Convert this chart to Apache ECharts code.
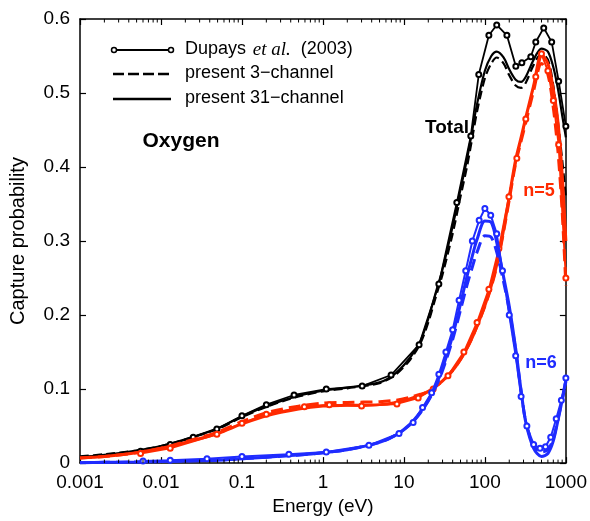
<!DOCTYPE html>
<html>
<head>
<meta charset="utf-8">
<script src="https://cdn.jsdelivr.net/npm/echarts@6/dist/echarts.min.js"></script>
<style>
html,body{margin:0;padding:0;background:#fff;}
#chart{width:590px;height:521px;}
</style>
</head>
<body>
<div id="chart"></div>
<script>
// ---------- data ----------
const energy = [0.001,0.002,0.005,0.01,0.02,0.05,0.1,0.2,0.5,1,2,5,8,12,16,20,25,30,40,50,60,70,80,100,120,140,170,200,240,280,320,400,500,600,700,800,900,1000];

const total31 = [0.008,0.011,0.017,0.023,0.032,0.047,0.063,0.077,0.091,0.098,0.102,0.109,0.122,0.143,0.165,0.195,0.232,0.262,0.320,0.370,0.410,0.450,0.485,0.530,0.550,0.556,0.548,0.532,0.518,0.515,0.522,0.545,0.560,0.556,0.535,0.505,0.470,0.440];
const total3  = [0.009,0.012,0.017,0.023,0.032,0.046,0.062,0.076,0.090,0.097,0.101,0.108,0.120,0.140,0.162,0.190,0.226,0.255,0.310,0.360,0.400,0.440,0.475,0.520,0.540,0.548,0.540,0.524,0.510,0.507,0.514,0.538,0.553,0.545,0.510,0.460,0.410,0.360];
const n5_31   = [0.007,0.009,0.014,0.020,0.028,0.040,0.053,0.064,0.073,0.077,0.078,0.079,0.082,0.087,0.092,0.097,0.104,0.111,0.125,0.140,0.155,0.170,0.185,0.213,0.240,0.268,0.315,0.360,0.410,0.440,0.467,0.510,0.552,0.540,0.505,0.460,0.390,0.300];
const n5_3    = [0.007,0.009,0.014,0.020,0.029,0.042,0.056,0.068,0.077,0.081,0.082,0.083,0.085,0.089,0.093,0.097,0.104,0.111,0.125,0.140,0.155,0.170,0.185,0.212,0.238,0.266,0.312,0.356,0.405,0.435,0.460,0.503,0.540,0.525,0.480,0.420,0.340,0.240];
const n6_31   = [0.0005,0.001,0.0015,0.002,0.003,0.004,0.006,0.008,0.011,0.014,0.018,0.028,0.038,0.053,0.069,0.085,0.106,0.128,0.172,0.215,0.252,0.280,0.302,0.327,0.325,0.298,0.252,0.212,0.155,0.098,0.055,0.020,0.009,0.013,0.030,0.058,0.085,0.112];
const n6_3    = [0.0005,0.001,0.0015,0.002,0.003,0.004,0.006,0.008,0.011,0.014,0.018,0.028,0.038,0.052,0.068,0.084,0.104,0.125,0.167,0.207,0.240,0.265,0.285,0.307,0.305,0.285,0.245,0.207,0.152,0.097,0.056,0.024,0.015,0.018,0.033,0.060,0.085,0.110];

const dupTotalE = [0.0056,0.013,0.025,0.049,0.1,0.2,0.44,1.1,3.05,6.95,15.4,27,45,67,84,112,140,187,241,286,369,425,533,668,815,1000];
const dupTotalY = [0.016,0.025,0.035,0.046,0.064,0.079,0.092,0.100,0.104,0.119,0.160,0.242,0.352,0.442,0.525,0.578,0.592,0.578,0.536,0.541,0.549,0.569,0.588,0.569,0.516,0.455];
const dupN5E = [0.0056,0.013,0.049,0.1,0.2,0.59,1.2,3,8.2,15,23,35,55,80,112,149,198,248,320,425,500,600,700,815,1000];
const dupN5Y = [0.013,0.020,0.039,0.054,0.066,0.076,0.079,0.077,0.080,0.088,0.100,0.118,0.150,0.190,0.235,0.290,0.360,0.412,0.465,0.522,0.553,0.530,0.490,0.430,0.250];
const dupN6E = [0.006,0.013,0.037,0.1,0.38,1.1,3.7,8.7,13,17,22,27,33,40,48,58,70,85,100,118,140,165,200,240,280,330,400,480,560,650,760,880,1000];
const dupN6Y = [0.003,0.004,0.006,0.009,0.012,0.015,0.024,0.040,0.055,0.075,0.095,0.120,0.150,0.180,0.220,0.260,0.300,0.328,0.344,0.335,0.310,0.260,0.200,0.145,0.090,0.050,0.025,0.020,0.022,0.035,0.060,0.085,0.115];

const minorE = [];
[0.001,0.01,0.1,1,10,100].forEach(d => { for (let k = 2; k <= 9; k++) minorE.push(+(d*k).toPrecision(3)); });

const xTickLabels = ['0.001','0.01','0.1','1','10','100','1000'];
const yTickLabels = ['0','0.1','0.2','0.3','0.4','0.5','0.6'];
const legendNames = ['Dupays', 'et al.', '(2003)', 'present 3\u2212channel', 'present 31\u2212channel'];
const annotations = ['Oxygen', 'Total', 'n=5', 'n=6'];

// ---------- chart ----------
const BLACK = '#000000', RED = '#ff2a00', BLUE = '#1f2cff';
const FONT = 'Liberation Sans, Arial, Helvetica, sans-serif';
const zip = (xs, ys) => xs.map((x, i) => [x, ys[i]]);

function smoothLine(data, color, width, dashed, z) {
  return { type: 'line', data: data, smooth: 0.3, showSymbol: false, symbol: 'none', z: z,
    color: color,
    lineStyle: { color: color, width: width, type: dashed ? 'dashed' : 'solid', dashOffset: 0 },
    emphasis: { disabled: true }, animation: false };
}
function dupLine(data, color, width, z) {
  return { type: 'line', data: data, smooth: false, showSymbol: true, showAllSymbol: true,
    symbol: 'emptyCircle', symbolSize: 5, z: z, color: color,
    itemStyle: { color: color, borderColor: color, borderWidth: 1.5 },
    lineStyle: { color: color, width: width, type: 'solid' },
    emphasis: { disabled: true }, animation: false };
}

const axisCommon = {
  axisLine: { show: true, onZero: false, lineStyle: { color: BLACK, width: 1.5 } },
  axisTick: { show: true, inside: true, length: 6, lineStyle: { color: BLACK, width: 1.2 } },
  splitLine: { show: false }
};

const chart = echarts.init(document.getElementById('chart'), null, { renderer: 'canvas' });
chart.setOption({
  animation: false,
  backgroundColor: '#fff',
  grid: { left: 80, right: 23, top: 19, bottom: 54, containLabel: false },
  xAxis: [
    Object.assign({ type: 'log', logBase: 10, min: 0.001, max: 1000, position: 'bottom',
      axisLabel: { color: BLACK, fontSize: 19, fontFamily: FONT, margin: 10,
        formatter: v => xTickLabels[Math.round(Math.log10(v)) + 3] },
      name: 'Energy (eV)', nameLocation: 'middle', nameGap: 32,
      nameTextStyle: { color: BLACK, fontSize: 19, fontFamily: FONT } }, axisCommon),
    Object.assign({ type: 'log', logBase: 10, min: 0.001, max: 1000, position: 'top',
      axisLabel: { show: false } }, axisCommon)
  ],
  yAxis: [
    Object.assign({ type: 'value', min: 0, max: 0.6, interval: 0.1, position: 'left',
      axisLabel: { color: BLACK, fontSize: 19, fontFamily: FONT, margin: 10,
        formatter: v => yTickLabels[Math.round(v * 10)] },
      name: 'Capture probability', nameLocation: 'middle', nameGap: 52,
      nameTextStyle: { color: BLACK, fontSize: 20, fontFamily: FONT } }, axisCommon),
    Object.assign({ type: 'value', min: 0, max: 0.6, interval: 0.1, position: 'right',
      axisLabel: { show: false } }, axisCommon)
  ],
  series: [
    smoothLine(zip(energy, total3), BLACK, 2.2, true, 3),
    smoothLine(zip(energy, total31), BLACK, 2.2, false, 3),
    dupLine(zip(dupTotalE, dupTotalY), BLACK, 1.8, 4),
    smoothLine(zip(energy, n5_3), RED, 3, true, 5),
    smoothLine(zip(energy, n5_31), RED, 3, false, 5),
    dupLine(zip(dupN5E, dupN5Y), RED, 2, 6),
    smoothLine(zip(energy, n6_3), BLUE, 3, true, 7),
    smoothLine(zip(energy, n6_31), BLUE, 3, false, 7),
    dupLine(zip(dupN6E, dupN6Y), BLUE, 2, 8),
    { type: 'custom', data: minorE.map(e => [e, 0]), z: 10, silent: true, clip: false,
      renderItem: function (params, api) {
        const e = api.value(0);
        const pb = api.coord([e, 0]);
        const pt = api.coord([e, 0.6]);
        const st = { stroke: BLACK, lineWidth: 1 };
        return { type: 'group', children: [
          { type: 'line', shape: { x1: pb[0], y1: pb[1], x2: pb[0], y2: pb[1] - 3.5 }, style: st },
          { type: 'line', shape: { x1: pt[0], y1: pt[1], x2: pt[0], y2: pt[1] + 3.5 }, style: st }
        ]};
      } }
  ],
  graphic: [
    // legend
    { type: 'line', shape: { x1: 113, y1: 50, x2: 171, y2: 50 }, style: { stroke: BLACK, lineWidth: 2.2 } },
    { type: 'circle', shape: { cx: 114, cy: 50, r: 2.5 }, style: { fill: '#fff', stroke: BLACK, lineWidth: 1.5 }, z: 101 },
    { type: 'circle', shape: { cx: 171, cy: 50, r: 2.5 }, style: { fill: '#fff', stroke: BLACK, lineWidth: 1.5 }, z: 101 },
    { type: 'text', left: 185, top: 40, style: {
      text: '{a|' + legendNames[0] + '}  {b|' + legendNames[1] + '}   {a|' + legendNames[2] + '}',
      rich: { a: { fontSize: 18, fontFamily: FONT, fill: BLACK },
              b: { fontSize: 19, fontFamily: 'Liberation Serif, Times New Roman, serif', fontStyle: 'italic', fill: BLACK } } } },
    { type: 'line', shape: { x1: 113, y1: 74, x2: 171, y2: 74 }, style: { stroke: BLACK, lineWidth: 2.5, lineDash: [11, 4] } },
    { type: 'text', left: 185, top: 64, style: { text: legendNames[3], fontSize: 18, fontFamily: FONT, fill: BLACK } },
    { type: 'line', shape: { x1: 113, y1: 99, x2: 171, y2: 99 }, style: { stroke: BLACK, lineWidth: 2.5 } },
    { type: 'text', left: 185, top: 89, style: { text: legendNames[4], fontSize: 18, fontFamily: FONT, fill: BLACK } },
    // annotations
    { type: 'text', x: 181, y: 141, style: { text: annotations[0], fontSize: 21, fontWeight: 'bold', fontFamily: FONT, fill: BLACK, align: 'center', verticalAlign: 'middle' } },
    { type: 'text', x: 447, y: 128, style: { text: annotations[1], fontSize: 19, fontWeight: 'bold', fontFamily: FONT, fill: BLACK, align: 'center', verticalAlign: 'middle' } },
    { type: 'text', x: 539, y: 191, style: { text: annotations[2], fontSize: 18, fontWeight: 'bold', fontFamily: FONT, fill: RED, align: 'center', verticalAlign: 'middle' } },
    { type: 'text', x: 541, y: 363, style: { text: annotations[3], fontSize: 18, fontWeight: 'bold', fontFamily: FONT, fill: BLUE, align: 'center', verticalAlign: 'middle' } }
  ]
});
</script>
</body>
</html>
